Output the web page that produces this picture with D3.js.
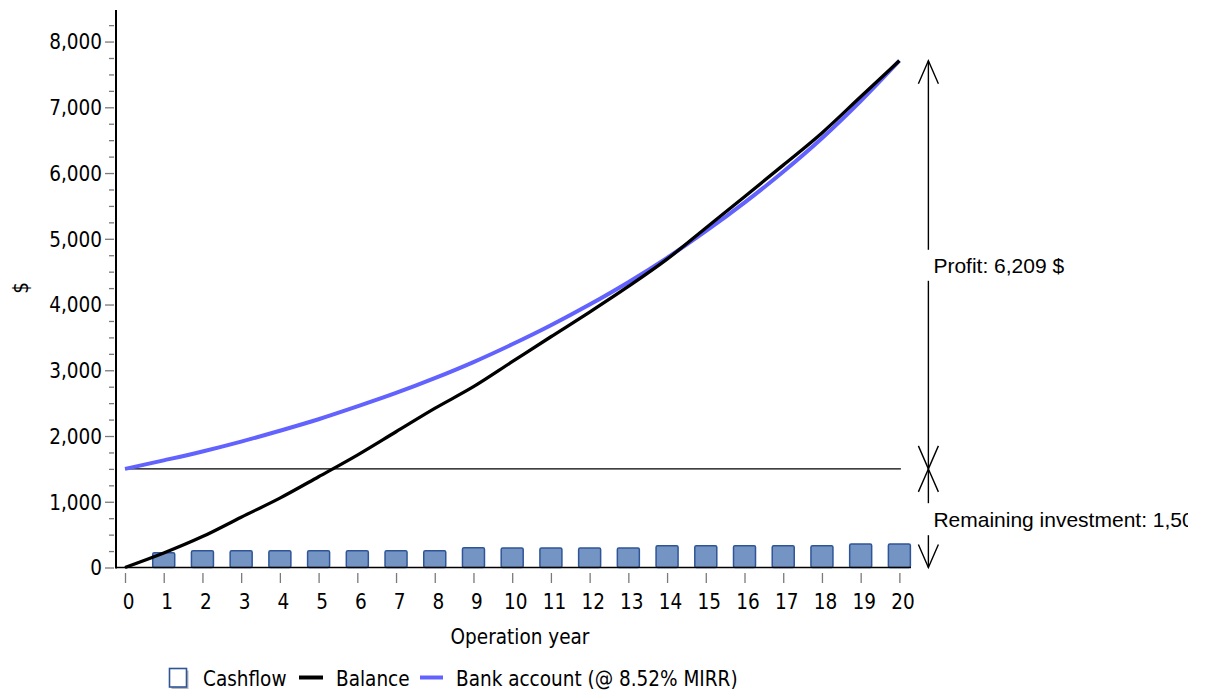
<!DOCTYPE html>
<html>
<head>
<meta charset="utf-8">
<script src="https://cdn.jsdelivr.net/npm/d3@7"></script>
<style>
  html, body { margin: 0; padding: 0; background: #fff; }
  svg { display: block; }
  .ax text { font-family: "DejaVu Sans Condensed", "DejaVu Sans", sans-serif; font-size: 20.5px; fill: #000; }
  .lbl { font-family: "DejaVu Sans Condensed", "DejaVu Sans", sans-serif; font-size: 20.5px; fill: #000; }
  .ann { font-family: "Liberation Sans", Arial, sans-serif; font-size: 21px; fill: #000; }
</style>
</head>
<body>
<svg id="chart" width="1211" height="696"></svg>
<script>
// ---- data ----
const years = [0,1,2,3,4,5,6,7,8,9,10,11,12,13,14,15,16,17,18,19,20];
const cashflow = [0,225,255,255,255,255,255,255,255,300,297,297,297,297,330,330,330,330,330,357,357];
const balance = [0,220,470,765,1055,1380,1710,2065,2420,2750,3130,3510,3885,4275,4690,5165,5640,6120,6610,7160,7709];
const bank = [1500,1630,1765,1915,2080,2255,2450,2655,2880,3125,3395,3685,4000,4340,4710,5115,5550,6020,6530,7095,7709];
const yTicks = [0,1000,2000,3000,4000,5000,6000,7000,8000];
const remainingInvestment = 1500;
const profit = 6209;
const seriesNames = ["Cashflow", "Balance", "Bank account (@ 8.52% MIRR)"];
const axisTitles = { x: "Operation year", y: "$" };

// ---- layout ----
const svg = d3.select("#chart");
const x = d3.scaleLinear().domain([-0.2325, 20.3]).range([116, 911]);
const y = d3.scaleLinear().domain([0, 8480]).range([567.5, 10]);
const fmt = d3.format(",");

// clip for annotation text (reference clips it at the plot edge)
svg.append("defs").append("clipPath").attr("id", "clipR")
  .append("rect").attr("x", 0).attr("y", 0).attr("width", 1188).attr("height", 696);

// ---- Y axis ----
const yMinor = d3.range(0, 8480, 250).filter(v => v % 1000 !== 0);
const gyMinor = svg.append("g").attr("class", "ax").attr("transform", "translate(114,0)")
  .call(d3.axisLeft(y).tickValues(yMinor).tickSize(5).tickFormat(""));
gyMinor.select(".domain").remove();
gyMinor.selectAll(".tick line").attr("stroke", "#7a7a7a").attr("stroke-width", 1.3);

const gy = svg.append("g").attr("class", "ax").attr("transform", "translate(114,0)")
  .call(d3.axisLeft(y).tickValues(yTicks).tickSize(9).tickPadding(3).tickFormat(fmt));
gy.select(".domain").remove();
gy.selectAll(".tick line").attr("stroke", "#7a7a7a").attr("stroke-width", 1.3);
gy.selectAll(".tick text").attr("dy", "0.36em");

svg.append("line").attr("x1", 116).attr("x2", 116).attr("y1", y.range()[1]).attr("y2", y(0) + 1)
  .attr("stroke", "#000").attr("stroke-width", 2);

// ---- X axis ----
const gx = svg.append("g").attr("class", "ax").attr("transform", "translate(0,573)")
  .call(d3.axisBottom(x).tickValues(years).tickSize(10).tickFormat(d3.format("d")));
gx.select(".domain").remove();
gx.selectAll(".tick line").attr("stroke", "#7a7a7a").attr("stroke-width", 1.3);
gx.selectAll(".tick text").attr("x", 3).attr("y", 21).attr("dy", "0.71em");

// ---- bars ----
svg.append("g").selectAll("rect").data(years.filter(d => cashflow[d] > 0)).join("rect")
  .attr("x", d => x(d) - 11)
  .attr("y", d => y(cashflow[d]))
  .attr("width", 22)
  .attr("height", d => y(0) - y(cashflow[d]))
  .attr("rx", 1.5)
  .attr("fill", "#7494c4")
  .attr("stroke", "#2f5597")
  .attr("stroke-width", 1.5);

// x axis line
svg.append("line").attr("x1", 116).attr("x2", x.range()[1]).attr("y1", y(0)).attr("y2", y(0))
  .attr("stroke", "#000").attr("stroke-width", 1.5);

// remaining investment horizontal line
svg.append("line").attr("x1", x(0)).attr("x2", x(20) + 1.5)
  .attr("y1", y(remainingInvestment)).attr("y2", y(remainingInvestment))
  .attr("stroke", "#000").attr("stroke-width", 1.4);

// ---- lines ----
const line = arr => d3.line().x((d, i) => x(years[i])).y(d => y(d)).curve(d3.curveMonotoneX)(arr);
svg.append("path").attr("d", line(bank)).attr("fill", "none").attr("stroke", "#6262ff").attr("stroke-width", 4);
svg.append("path").attr("d", line(balance)).attr("fill", "none").attr("stroke", "#000").attr("stroke-width", 3.3);

// ---- annotations ----
const ax = x(20) + 29;
const yTop = y(remainingInvestment + profit);
const yMid = y(remainingInvestment);
const yBot = y(0);
const ann = svg.append("g").attr("stroke", "#000").attr("stroke-width", 1.4).attr("fill", "none");
function head(yTip, dir) { // dir -1 = pointing up, +1 = pointing down
  const yb = yTip - dir * 23;
  ann.append("path").attr("d", `M${ax - 10},${yb}L${ax},${yTip}L${ax + 10},${yb}`);
}
// profit arrow
const pMid = (yTop + yMid) / 2;
ann.append("line").attr("x1", ax).attr("x2", ax).attr("y1", yTop).attr("y2", pMid - 15);
ann.append("line").attr("x1", ax).attr("x2", ax).attr("y1", pMid + 16).attr("y2", yMid);
head(yTop, -1); head(yMid, 1);
// remaining arrow
const rMid = (yMid + yBot) / 2 + 1;
ann.append("line").attr("x1", ax).attr("x2", ax).attr("y1", yMid).attr("y2", rMid - 16);
ann.append("line").attr("x1", ax).attr("x2", ax).attr("y1", rMid + 16).attr("y2", yBot);
head(yMid, -1); head(yBot, 1);

const tg = svg.append("g").attr("clip-path", "url(#clipR)");
tg.append("text").attr("class", "ann").attr("x", ax + 5).attr("y", pMid + 1).attr("dy", "0.36em")
  .text("Profit: " + fmt(profit) + " $");
tg.append("text").attr("class", "ann").attr("x", ax + 5).attr("y", rMid).attr("dy", "0.36em")
  .text("Remaining investment: " + fmt(remainingInvestment) + " $");

// ---- axis titles ----
svg.append("text").attr("class", "lbl").attr("x", 520).attr("y", 637).attr("dy", "0.36em")
  .attr("text-anchor", "middle").text(axisTitles.x);
svg.append("text").attr("class", "lbl").attr("transform", "translate(21,288) rotate(-90)")
  .attr("dy", "0.36em").attr("text-anchor", "middle").text(axisTitles.y);

// ---- legend ----
const lg = svg.append("g");
lg.append("rect").attr("x", 171.5).attr("y", 670.5).attr("width", 17).attr("height", 18.5).attr("fill", "#b8b8b8");
lg.append("rect").attr("x", 169.5).attr("y", 668.5).attr("width", 17).attr("height", 18.5)
  .attr("fill", "#fff").attr("stroke", "#2f5597").attr("stroke-width", 1.6);
lg.append("text").attr("class", "lbl").attr("x", 203).attr("y", 678.5).attr("dy", "0.36em").text(seriesNames[0]);
lg.append("line").attr("x1", 299).attr("x2", 323).attr("y1", 677.5).attr("y2", 677.5).attr("stroke", "#000").attr("stroke-width", 4);
lg.append("text").attr("class", "lbl").attr("x", 336).attr("y", 678.5).attr("dy", "0.36em").text(seriesNames[1]);
lg.append("line").attr("x1", 420).attr("x2", 443).attr("y1", 677.5).attr("y2", 677.5).attr("stroke", "#6262ff").attr("stroke-width", 4);
lg.append("text").attr("class", "lbl").attr("x", 456).attr("y", 678.5).attr("dy", "0.36em").text(seriesNames[2]);
</script>
</body>
</html>
